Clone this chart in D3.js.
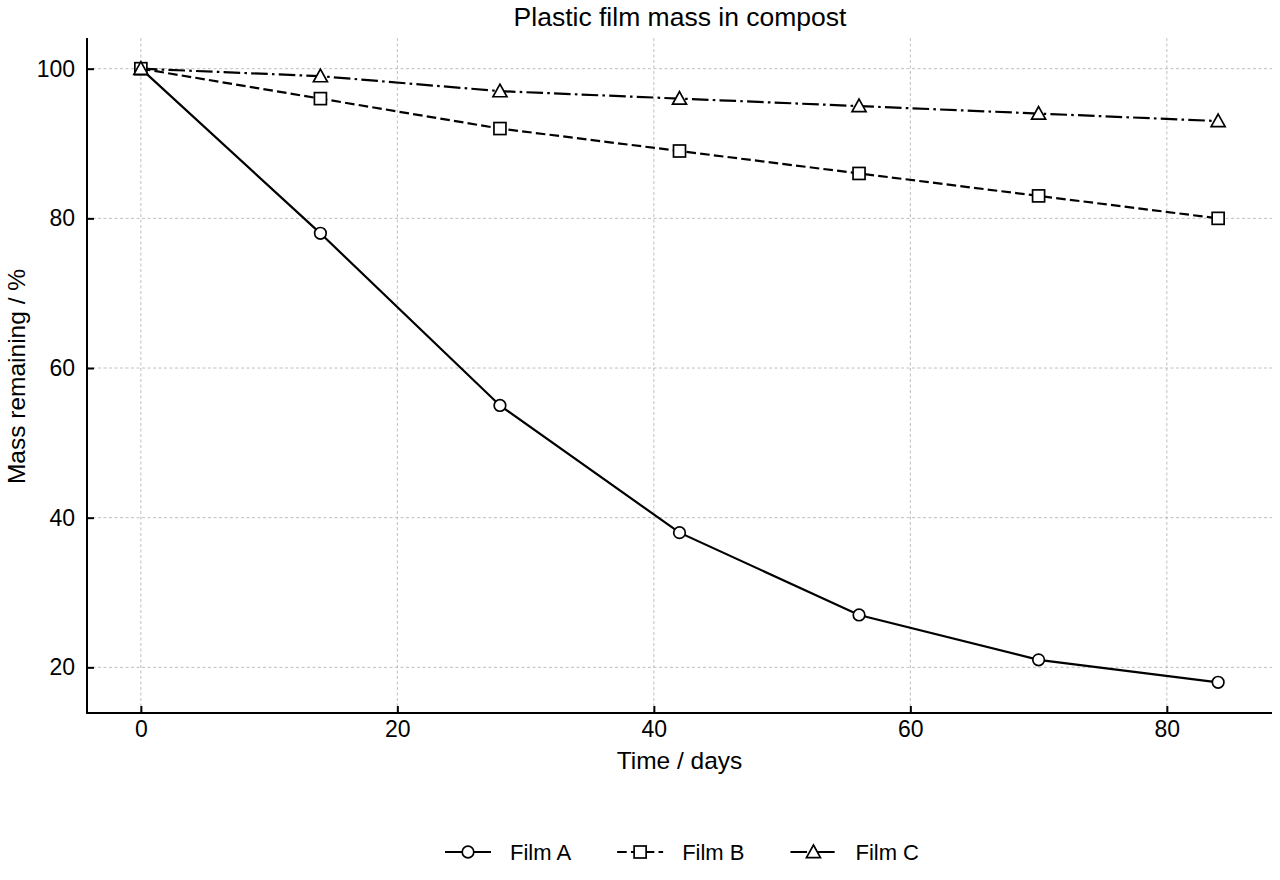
<!DOCTYPE html>
<html><head><meta charset="utf-8">
<script src="https://cdn.jsdelivr.net/npm/d3@7"></script>
<style>body{margin:0;background:#fff}svg{display:block;font-family:"Liberation Sans",Arial,sans-serif}</style>
</head><body>
<svg id="c" width="1280" height="880"></svg>
<script>
const days = [0, 14, 28, 42, 56, 70, 84];
const filmA = [100, 78, 55, 38, 27, 21, 18];
const filmB = [100, 96, 92, 89, 86, 83, 80];
const filmC = [100, 99, 97, 96, 95, 94, 93];
const seriesNames = ["Film A", "Film B", "Film C"];
const xTicks = [0, 20, 40, 60, 80];
const yTicks = [20, 40, 60, 80, 100];

const series = [
  {name: seriesNames[0], values: filmA, dash: null, marker: "circle"},
  {name: seriesNames[1], values: filmB, dash: "9.6,4.2", marker: "square"},
  {name: seriesNames[2], values: filmC, dash: "16.6,4.2,2.6,4.2", marker: "triangle"}
];

const svg = d3.select("#c");
const L = 87, R = 1272, T = 38, B = 713;
const x = d3.scaleLinear().domain([-4.2, 88.2]).range([L, R]);
const y = d3.scaleLinear().domain([13.9, 104.1]).range([B, T]);

// grid
const g = svg.append("g");
g.selectAll(".gx").data(xTicks).join("line")
  .attr("x1", d => x(d)).attr("x2", d => x(d)).attr("y1", T).attr("y2", B)
  .attr("stroke", "#b0b0b0").attr("stroke-width", 0.8).attr("stroke-dasharray", "3,2.5");
g.selectAll(".gy").data(yTicks).join("line")
  .attr("y1", d => y(d)).attr("y2", d => y(d)).attr("x1", L).attr("x2", R)
  .attr("stroke", "#b0b0b0").attr("stroke-width", 0.8).attr("stroke-dasharray", "3,2.5");

// axes with inward ticks
const xAxis = d3.axisBottom(x).tickValues(xTicks).tickSize(-7).tickPadding(8).tickSizeOuter(0);
const yAxis = d3.axisLeft(y).tickValues(yTicks).tickSize(-7).tickPadding(12).tickSizeOuter(0);
const gx = svg.append("g").attr("transform", `translate(0,${B})`).call(xAxis);
const gy = svg.append("g").attr("transform", `translate(${L},0)`).call(yAxis);
[gx, gy].forEach(a => {
  a.select(".domain").remove();
  a.selectAll(".tick line").attr("stroke", "#000").attr("stroke-width", 2);
  a.selectAll(".tick text").attr("font-size", 23).attr("fill", "#000").attr("font-family", "Liberation Sans, Arial, sans-serif");
});
// spines
svg.append("line").attr("x1", L).attr("x2", L).attr("y1", T).attr("y2", B + 1).attr("stroke", "#000").attr("stroke-width", 2);
svg.append("line").attr("x1", L - 1).attr("x2", R).attr("y1", B).attr("y2", B).attr("stroke", "#000").attr("stroke-width", 2);

// lines
const line = d3.line().x((d, i) => x(days[i])).y(d => y(d));
function drawMarker(sel, type, cx, cy) {
  if (type === "circle") {
    sel.append("circle").attr("cx", cx).attr("cy", cy).attr("r", 5.8);
  } else if (type === "square") {
    sel.append("rect").attr("x", cx - 6).attr("y", cy - 6).attr("width", 12).attr("height", 12);
  } else {
    const s = 7;
    sel.append("path").attr("d", `M${cx},${cy - s} L${cx + s},${cy + s * 0.8} L${cx - s},${cy + s * 0.8} Z`);
  }
}
series.forEach(s => {
  svg.append("path").datum(s.values).attr("d", line)
    .attr("fill", "none").attr("stroke", "#000").attr("stroke-width", 2.2)
    .attr("stroke-dasharray", s.dash);
});
series.forEach(s => {
  const mg = svg.append("g").attr("fill", "#fff").attr("stroke", "#000").attr("stroke-width", 1.7);
  s.values.forEach((v, i) => drawMarker(mg, s.marker, x(days[i]), y(v)));
});

// labels
svg.append("text").attr("x", (L + R) / 2 + 0.5).attr("y", 26).attr("text-anchor", "middle")
  .attr("font-size", 26.5).text("Plastic film mass in compost");
svg.append("text").attr("x", (L + R) / 2).attr("y", 769).attr("text-anchor", "middle")
  .attr("font-size", 24.5).text("Time / days");
svg.append("text").attr("transform", `translate(25,${(T + B) / 2 + 1}) rotate(-90)`).attr("text-anchor", "middle")
  .attr("font-size", 24.5).text("Mass remaining / %");

// legend
const lg = svg.append("g").attr("transform", "translate(445,0)");
const ly = 852;
let cx = 0;
series.forEach((s, i) => {
  const it = lg.append("g").attr("transform", `translate(${cx},0)`);
  it.append("line").attr("x1", 0).attr("x2", 46).attr("y1", ly).attr("y2", ly)
    .attr("stroke", "#000").attr("stroke-width", 2.2).attr("stroke-dasharray", s.dash);
  const mg = it.append("g").attr("fill", "#fff").attr("stroke", "#000").attr("stroke-width", 1.7);
  drawMarker(mg, s.marker, 23, ly);
  const t = it.append("text").attr("x", 65).attr("y", ly + 8).attr("font-size", 22).text(s.name);
  const w = t.node().getComputedTextLength();
  cx += 65 + w + 46;
});
</script>
</body></html>
